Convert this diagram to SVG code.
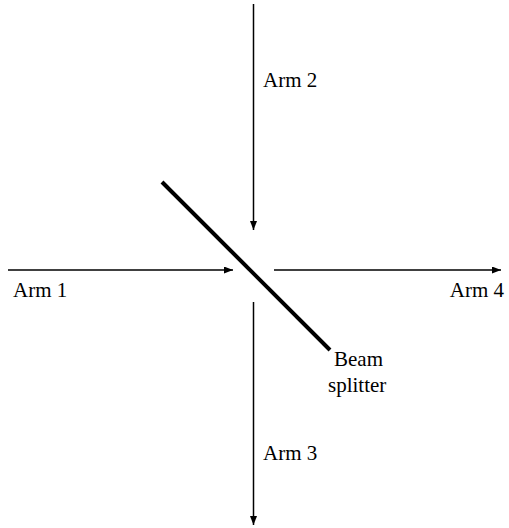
<svg xmlns="http://www.w3.org/2000/svg" width="509" height="528" viewBox="0 0 509 528">
<style>
.arm{stroke:#000;stroke-width:1.5;fill:none}
.lbl{font-family:"Liberation Serif","Times New Roman",Times,serif;font-size:21px;fill:#000}
</style>
<defs>
<marker id="ah" markerWidth="9" markerHeight="7" refX="9" refY="3.5" orient="auto" markerUnits="userSpaceOnUse">
<path d="M0,0 L9,3.5 L0,7 Z" fill="#000"/>
</marker>
</defs>
<rect width="509" height="528" fill="#fff"/>
<g id="connectors">
<line class="arm" x1="8" y1="270" x2="233" y2="270" marker-end="url(#ah)"/>
<line class="arm" x1="253.5" y1="4" x2="253.5" y2="230" marker-end="url(#ah)"/>
<line class="arm" x1="274" y1="270" x2="501" y2="270" marker-end="url(#ah)"/>
<line class="arm" x1="253.5" y1="302" x2="253.5" y2="525" marker-end="url(#ah)"/>
</g>
<g id="splitter">
<line x1="162" y1="182" x2="330" y2="350" stroke="#000" stroke-width="4"/>
<text class="lbl" font-family="Liberation Serif, serif" x="334" y="366">Beam</text>
<text class="lbl" font-family="Liberation Serif, serif" x="328" y="392">splitter</text>
</g>
<g id="arm1"><text class="lbl" font-family="Liberation Serif, serif" x="13" y="297">Arm 1</text></g>
<g id="arm2"><text class="lbl" font-family="Liberation Serif, serif" x="263" y="87">Arm 2</text></g>
<g id="arm3"><text class="lbl" font-family="Liberation Serif, serif" x="263" y="460">Arm 3</text></g>
<g id="arm4"><text class="lbl" font-family="Liberation Serif, serif" x="504" y="297" text-anchor="end">Arm 4</text></g>
</svg>
